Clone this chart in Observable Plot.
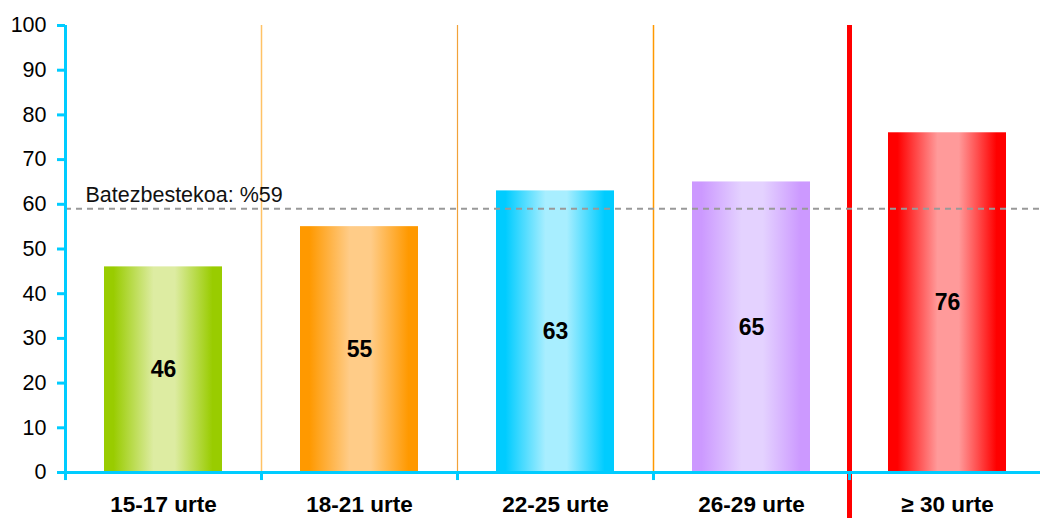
<!DOCTYPE html>
<html>
<head>
<meta charset="utf-8">
<script src="https://cdn.jsdelivr.net/npm/d3@7"></script>
<script src="https://cdn.jsdelivr.net/npm/@observablehq/plot@0.6"></script>
<style>
  html, body { margin: 0; padding: 0; background: white; }
  svg { overflow: visible; }
</style>
</head>
<body>
<div id="chart"></div>
<script>
const categories = ["15-17 urte", "18-21 urte", "22-25 urte", "26-29 urte", "≥ 30 urte"];
const values = [46, 55, 63, 65, 76];
const darkColors = ["#99CC00", "#FF9900", "#00CCFF", "#CC99FF", "#FF0000"];
const lightColors = ["#DDECA2", "#FFCC88", "#A8EEFF", "#E4D2FF", "#FF9A9A"];
const average = 59;
const averageLabel = "Batezbestekoa: %59";
const yTicks = [0, 10, 20, 30, 40, 50, 60, 70, 80, 90, 100];
const separators = [
  {cat: "18-21 urte", color: "#FFC266", width: 1.5, bottom: 0},
  {cat: "22-25 urte", color: "#F2A23A", width: 1.2, bottom: 0},
  {cat: "26-29 urte", color: "#FF9900", width: 1.5, bottom: 0},
  {cat: "≥ 30 urte", color: "#FF0000", width: 5, bottom: -11}
];

const data = categories.map((c, i) => ({cat: c, value: values[i], grad: `url(#grad${i})`}));

const W = 1040, H = 518, mL = 65, mR = -5, mT = 25, mB = 46;
const bw = (W - mL - mR) / categories.length;
const barInset = (bw - 118) / 2;

const plot = Plot.plot({
  width: W, height: H,
  marginLeft: mL, marginRight: mR, marginTop: mT, marginBottom: mB,
  x: {domain: categories, padding: 0, axis: null},
  y: {domain: [0, 100], axis: null},
  style: {fontFamily: "'Liberation Sans', Arial, sans-serif", fontSize: "20px", background: "white", overflow: "visible"},
  marks: [
    ...separators.map(s => Plot.ruleX([s], {x: "cat", dx: -bw / 2, y1: 100, y2: s.bottom, stroke: s.color, strokeWidth: s.width})),
    ...data.map(d => Plot.barY([d], {x: "cat", y: "value", fill: d.grad, insetLeft: barInset, insetRight: barInset})),
    Plot.text(data, {x: "cat", y: d => d.value / 2, text: d => String(d.value), fontWeight: "bold", fontSize: 23, fill: "black"}),
    Plot.ruleY([average], {stroke: "#999999", strokeWidth: 2, strokeDasharray: "6,5"}),
    Plot.text([averageLabel], {x: () => categories[0], y: () => average, text: d => d, dx: -78, dy: -14, textAnchor: "start", fontSize: 21.5, fill: "#111"}),
    Plot.axisY({ticks: yTicks, tickSize: 8, tickPadding: 11, stroke: "#00CCFF", strokeWidth: 3, fill: "black", fontSize: 21.5, tickFormat: d => String(d), label: null}),
    Plot.ruleX(categories, {x: d => d, dx: -bw / 2, y1: 0, y2: -1.8, stroke: "#00CCFF", strokeWidth: 3}),
    Plot.ruleY([0], {stroke: "#00CCFF", strokeWidth: 3}),
    Plot.ruleX([categories[0]], {x: d => d, dx: -bw / 2, y1: 0, y2: 100, stroke: "#00CCFF", strokeWidth: 3}),
    Plot.text(categories, {x: d => d, y: () => 0, text: d => d, dy: 32, fontWeight: "bold", fontSize: 22.5, fill: "black"})
  ]
});

// gradient definitions for the bars
const svg = d3.select(plot);
const defs = svg.insert("defs", ":first-child");
darkColors.forEach((dark, i) => {
  const light = lightColors[i];
  const g = defs.append("linearGradient").attr("id", `grad${i}`).attr("x1", "0").attr("x2", "1").attr("y1", "0").attr("y2", "0");
  [[0, dark], [0.08, dark], [0.42, light], [0.6, light], [0.92, dark], [1, dark]].forEach(([o, c]) => {
    g.append("stop").attr("offset", o).attr("stop-color", c);
  });
});

document.getElementById("chart").appendChild(plot);
</script>
</body>
</html>
